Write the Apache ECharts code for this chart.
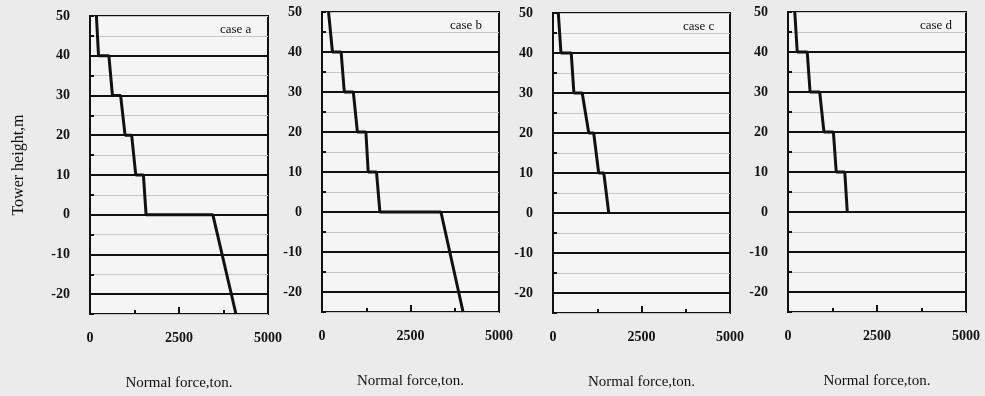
<!DOCTYPE html>
<html><head><meta charset="utf-8">
<script src="https://cdn.jsdelivr.net/npm/echarts@6/dist/echarts.min.js"></script>
<style>html,body{margin:0;padding:0;background:#ebebeb;} #c{width:985px;height:396px;}</style>
</head><body><div id="c"></div><script>
// Segment boundary heights (m)
const levels = [50, 40, 30, 20, 10, 0, -25];
const caseNames = ['case a', 'case b', 'case c', 'case d'];
// Normal force (ton) at the top and bottom of each segment
const caseATop    = [180, 530, 860, 1170, 1500, 3450];
const caseABottom = [240, 630, 985, 1285, 1575, 4100];
const caseBTop    = [185, 540, 885, 1240, 1540, 3360];
const caseBBottom = [295, 630, 1000, 1305, 1635, 3985];
const caseCTop    = [150, 515, 825, 1150, 1435];
const caseCBottom = [225, 590, 1010, 1290, 1575];
const caseDTop    = [190, 540, 890, 1275, 1595];
const caseDBottom = [260, 620, 1010, 1355, 1665];
const majorLines = [40, 30, 20, 10, 0, -10, -20];
const xTickLabels = [0, 2500, 5000];
const yTickLabels = [50, 40, 30, 20, 10, 0, -10, -20];

const tops = [caseATop, caseBTop, caseCTop, caseDTop];
const bottoms = [caseABottom, caseBBottom, caseCBottom, caseDBottom];

function profile(t, b) {
  const pts = [];
  for (let i = 0; i < t.length; i++) {
    pts.push([t[i], levels[i]]);
    pts.push([b[i], levels[i + 1]]);
  }
  return pts;
}

const FONT = '"Liberation Serif", "DejaVu Serif", serif';
const gridPos = [
  {left: 90, top: 16, width: 178, height: 300},
  {left: 322, top: 12, width: 177, height: 300},
  {left: 553, top: 13, width: 177, height: 300},
  {left: 788, top: 12, width: 178, height: 300}
];
const titlePos = [[220, 23], [450, 19], [683, 20], [920, 19]];

const grid = gridPos.map(g => Object.assign({show: true, borderColor: '#111', borderWidth: 2, backgroundColor: '#f5f5f5'}, g));
const xAxis = [];
const yAxis = [];
const series = [];
const title = [];

for (let i = 0; i < 4; i++) {
  xAxis.push({
    gridIndex: i, type: 'value', min: 0, max: 5000, interval: 1250, position: 'bottom',
    axisLine: {show: false, onZero: false},
    axisTick: {inside: true, length: 4, lineStyle: {color: '#111', width: 2}},
    axisLabel: {formatter: v => xTickLabels.includes(v) ? String(v) : '', margin: 17,
      fontFamily: FONT, fontWeight: 'bold', fontSize: 14, color: '#111'},
    splitLine: {show: false},
    name: 'Normal force,ton.', nameLocation: 'middle', nameGap: 62,
    nameTextStyle: {fontFamily: FONT, fontSize: 15, color: '#111'}
  });
  yAxis.push({
    gridIndex: i, type: 'value', min: -25, max: 50, interval: 5,
    axisLine: {show: false, onZero: false},
    axisTick: {inside: true, length: 4, lineStyle: {color: '#111', width: 2}},
    axisLabel: {formatter: v => yTickLabels.includes(v) ? String(v) : '', margin: 20,
      fontFamily: FONT, fontWeight: 'bold', fontSize: 14, color: '#111'},
    splitLine: {show: true, lineStyle: {color: '#c6c6c6', width: 1}},
    name: i === 0 ? 'Tower height,m' : '', nameLocation: 'middle', nameGap: 63,
    nameTextStyle: {fontFamily: FONT, fontSize: 16, color: '#111'}
  });
  series.push({
    type: 'line', xAxisIndex: i, yAxisIndex: i, data: profile(tops[i], bottoms[i]),
    showSymbol: false, symbol: 'none', lineStyle: {color: '#111', width: 3}, z: 5,
    markLine: {silent: true, symbol: ['none', 'none'], label: {show: false},
      lineStyle: {color: '#111', width: 2, type: 'solid'},
      data: majorLines.map(v => ({yAxis: v}))}
  });
  title.push({text: caseNames[i], left: titlePos[i][0], top: titlePos[i][1], padding: 0,
    textStyle: {fontFamily: FONT, fontSize: 13, fontWeight: 'normal', color: '#111'}});
}
for (let i = 0; i < 4; i++) {
  xAxis.push({
    gridIndex: i, type: 'value', min: 0, max: 5000, interval: 2500, position: 'bottom',
    axisLine: {show: false, onZero: false}, axisLabel: {show: false}, splitLine: {show: false},
    axisTick: {inside: true, length: 7, lineStyle: {color: '#111', width: 2}}
  });
}

const chart = echarts.init(document.getElementById('c'), null, {renderer: 'canvas'});
chart.setOption({animation: false, backgroundColor: '#ebebeb', title, grid, xAxis, yAxis, series});
</script></body></html>
